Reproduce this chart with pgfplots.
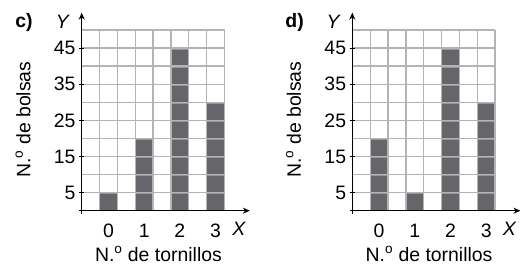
\documentclass[border=0pt]{standalone}
\usepackage{pgfplots}
\pgfplotsset{compat=1.18}
\usepackage{fontspec}
\setmainfont{Liberation Sans}
\usetikzlibrary{arrows.meta,patterns}
\definecolor{barc}{HTML}{66666A}
\definecolor{gridc}{HTML}{B4B4B4}
\pgfdeclarepatternformonly{gridlines}{\pgfpointorigin}{\pgfqpoint{10bp}{18.07bp}}{\pgfqpoint{10bp}{18.07bp}}{%
  \pgfsetlinewidth{1.3bp}%
  \pgfpathmoveto{\pgfqpoint{-1bp}{1.09bp}}%
  \pgfpathlineto{\pgfqpoint{11bp}{1.09bp}}%
  \pgfusepath{stroke}}
\pgfplotsset{
  tornillos/.style={
    scale only axis, width=142.8bp, height=180.7bp,
    anchor=south west,
    xmin=-0.75, xmax=3.25, ymin=0, ymax=50,
    axis line style={draw=none},
    clip=false,
    xtick={0,1,2,3}, xticklabels={0,1,2,3},
    ytick={5,15,25,35,45}, yticklabels={5,15,25,35,45},
    xtick style={draw=none},
    ytick style={draw=none},
    major tick length=5.4bp, tick align=center,
    ytick pos=left, xtick pos=bottom,
    tick label style={font=\fontsize{19.5}{20}\selectfont},
    xticklabel style={anchor=base, yshift=-21.6bp},
    ybar, bar width=0.5,
  }
}
\newcommand{\chart}[4]{%
  \begin{axis}[tornillos, at={(#1,0)}]
    \addplot[fill=barc, draw=none, bar shift=0pt,
      postaction={pattern=gridlines, pattern color=gridc}] coordinates {#3};
    \node[anchor=base] at (axis cs:1.4,0) [yshift=-50.3bp] {N.\textsuperscript{o} de tornillos};
    \node[anchor=base] at (axis cs:3.66,0) [yshift=-24.3bp] {\textit{X}};
    \node[rotate=90] at (axis cs:-2.394,25.2) {N.\textsuperscript{o} de bolsas};
    \node at (axis cs:-1.274,52.3) {\textit{Y}};
    \node at (axis cs:-2.366,52.1) {\textbf{#2)}};
    \coordinate (xa#4) at (axis cs:-0.817,0);
    \coordinate (xb#4) at (axis cs:3.96,0);
    \coordinate (ya#4) at (axis cs:-0.75,-0.8);
    \coordinate (yb#4) at (axis cs:-0.75,54.8);
  \end{axis}
  \begin{scope}[shift={(#1,0)}]
    \draw[gridc, line width=1.3bp] (0,0) grid[xstep=17.85bp, ystep=18.07bp] (142.9bp,180.8bp);
    \foreach \k in {1,3,5,7,9}
      \draw[black, line width=1bp] (-2.7bp,\k*18.07bp) -- (2.7bp,\k*18.07bp);
  \end{scope}
  \draw[line width=1.2bp, -{Stealth[length=7bp, width=6bp]}] (xa#4) -- (xb#4);
  \draw[line width=1.2bp, -{Stealth[length=7bp, width=6bp]}] (ya#4) -- (yb#4);
}
\begin{document}
\begin{tikzpicture}[font=\fontsize{19.5}{22}\selectfont]
  \useasboundingbox (-81.7bp,-55.3bp) rectangle (438.3bp,210.7bp);
  \chart{0bp}{c}{(0,5) (1,20) (2,45) (3,30)}{A}
  \chart{270.6bp}{d}{(0,20) (1,5) (2,45) (3,30)}{B}
\end{tikzpicture}
\end{document}
